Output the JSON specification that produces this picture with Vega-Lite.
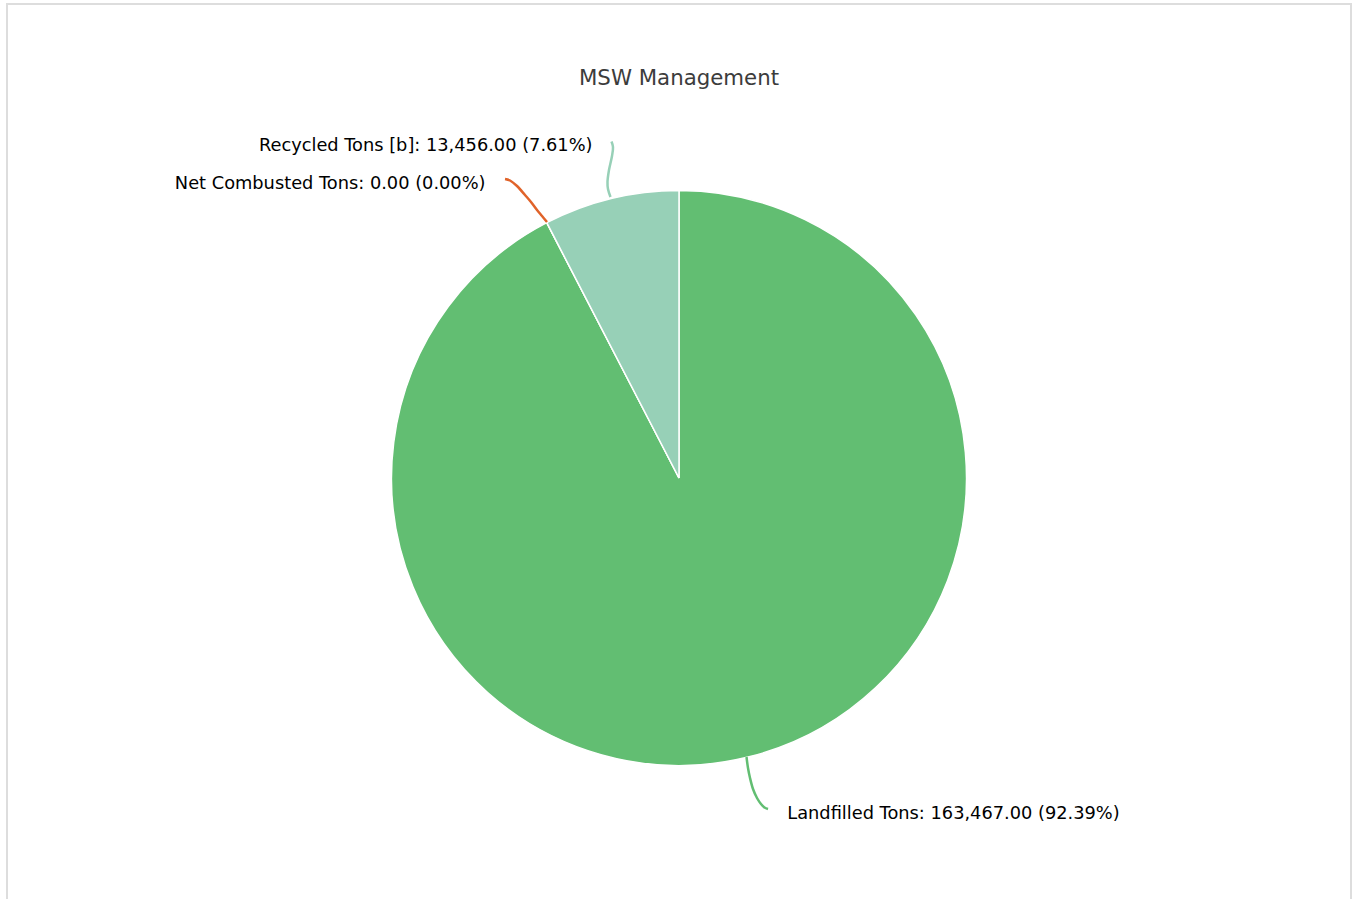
{
  "$schema": "https://vega.github.io/schema/vega-lite/v6.json",
  "autosize": {"type": "none"},
  "padding": {"left": 7, "top": 4, "right": 6, "bottom": 0},
  "width": 1344,
  "height": 900,
  "background": "white",
  "config": {"view": {"stroke": "#dddddd", "strokeWidth": 2}},
  "title": {
    "text": "MSW Management",
    "frame": "group",
    "anchor": "middle",
    "baseline": "alphabetic",
    "offset": -102,
    "font": "DejaVu Sans",
    "fontSize": 21.3,
    "fontWeight": "normal",
    "color": "#3c3c3c"
  },
  "datasets": {
    "slices": [
      {"category": "Landfilled Tons", "tons": 163467, "order": 1},
      {"category": "Net Combusted Tons", "tons": 0, "order": 2},
      {"category": "Recycled Tons [b]", "tons": 13456, "order": 3}
    ],
    "labels": [
      {"category": "Recycled Tons [b]", "label": "Recycled Tons [b]: 13,456.00 (7.61%)", "side": "left", "lx": -0.3009, "ly": 1.1357},
      {"category": "Net Combusted Tons", "label": "Net Combusted Tons: 0.00 (0.00%)", "side": "left", "lx": -0.673, "ly": 1.0052},
      {"category": "Landfilled Tons", "label": "Landfilled Tons: 163,467.00 (92.39%)", "side": "right", "lx": 0.3767, "ly": -1.1871}
    ],
    "connectors": [
      {"category": "Recycled Tons [b]", "seq": 1, "cx": -0.2348, "cy": 1.1704},
      {"category": "Recycled Tons [b]", "seq": 2, "cx": -0.2296, "cy": 1.1513},
      {"category": "Recycled Tons [b]", "seq": 3, "cx": -0.233, "cy": 1.12},
      {"category": "Recycled Tons [b]", "seq": 4, "cx": -0.2435, "cy": 1.0713},
      {"category": "Recycled Tons [b]", "seq": 5, "cx": -0.2487, "cy": 1.0296},
      {"category": "Recycled Tons [b]", "seq": 6, "cx": -0.247, "cy": 1.0052},
      {"category": "Recycled Tons [b]", "seq": 7, "cx": -0.2383, "cy": 0.9774},
      {"category": "Net Combusted Tons", "seq": 1, "cx": -0.6052, "cy": 1.04},
      {"category": "Net Combusted Tons", "seq": 2, "cx": -0.5878, "cy": 1.0348},
      {"category": "Net Combusted Tons", "seq": 3, "cx": -0.5635, "cy": 1.0157},
      {"category": "Net Combusted Tons", "seq": 4, "cx": -0.5357, "cy": 0.9843},
      {"category": "Net Combusted Tons", "seq": 5, "cx": -0.5148, "cy": 0.96},
      {"category": "Net Combusted Tons", "seq": 6, "cx": -0.4939, "cy": 0.9322},
      {"category": "Net Combusted Tons", "seq": 7, "cx": -0.4765, "cy": 0.9113},
      {"category": "Net Combusted Tons", "seq": 8, "cx": -0.4591, "cy": 0.8904},
      {"category": "Landfilled Tons", "seq": 1, "cx": 0.2348, "cy": -0.9704},
      {"category": "Landfilled Tons", "seq": 2, "cx": 0.24, "cy": -1.0087},
      {"category": "Landfilled Tons", "seq": 3, "cx": 0.247, "cy": -1.0435},
      {"category": "Landfilled Tons", "seq": 4, "cx": 0.2574, "cy": -1.0817},
      {"category": "Landfilled Tons", "seq": 5, "cx": 0.2713, "cy": -1.113},
      {"category": "Landfilled Tons", "seq": 6, "cx": 0.2852, "cy": -1.1339},
      {"category": "Landfilled Tons", "seq": 7, "cx": 0.2974, "cy": -1.1461},
      {"category": "Landfilled Tons", "seq": 8, "cx": 0.3096, "cy": -1.1513}
    ]
  },
  "layer": [
    {
      "data": {"name": "slices"},
      "mark": {"type": "arc", "radius": 287.5, "stroke": "white", "strokeWidth": 1.5},
      "encoding": {
        "x": {"datum": 0, "type": "quantitative", "scale": {"domain": [-2.33739, 2.33739], "nice": false, "zero": false}, "axis": null},
        "y": {"datum": 0, "type": "quantitative", "scale": {"domain": [-1.48174, 1.6487], "nice": false, "zero": false}, "axis": null},
        "theta": {"field": "tons", "type": "quantitative", "stack": true},
        "order": {"field": "order", "type": "quantitative"},
        "color": {
          "field": "category", "type": "nominal", "legend": null,
          "scale": {"domain": ["Landfilled Tons", "Net Combusted Tons", "Recycled Tons [b]"], "range": ["#62be72", "#e0632a", "#97d0b7"]}
        }
      }
    },
    {
      "data": {"name": "connectors"},
      "mark": {"type": "line", "interpolate": "catmull-rom", "strokeWidth": 2.5},
      "encoding": {
        "x": {"field": "cx", "type": "quantitative", "axis": null},
        "y": {"field": "cy", "type": "quantitative", "axis": null},
        "order": {"field": "seq", "type": "quantitative"},
        "detail": {"field": "category"},
        "color": {"field": "category", "type": "nominal", "legend": null}
      }
    },
    {
      "data": {"name": "labels"},
      "transform": [{"filter": "datum.side === 'left'"}],
      "mark": {"type": "text", "align": "right", "baseline": "alphabetic", "font": "DejaVu Sans", "fontSize": 17.8, "color": "#000000"},
      "encoding": {
        "x": {"field": "lx", "type": "quantitative", "axis": null},
        "y": {"field": "ly", "type": "quantitative", "axis": null},
        "text": {"field": "label"}
      }
    },
    {
      "data": {"name": "labels"},
      "transform": [{"filter": "datum.side === 'right'"}],
      "mark": {"type": "text", "align": "left", "baseline": "alphabetic", "font": "DejaVu Sans", "fontSize": 17.8, "color": "#000000"},
      "encoding": {
        "x": {"field": "lx", "type": "quantitative", "axis": null},
        "y": {"field": "ly", "type": "quantitative", "axis": null},
        "text": {"field": "label"}
      }
    }
  ]
}
